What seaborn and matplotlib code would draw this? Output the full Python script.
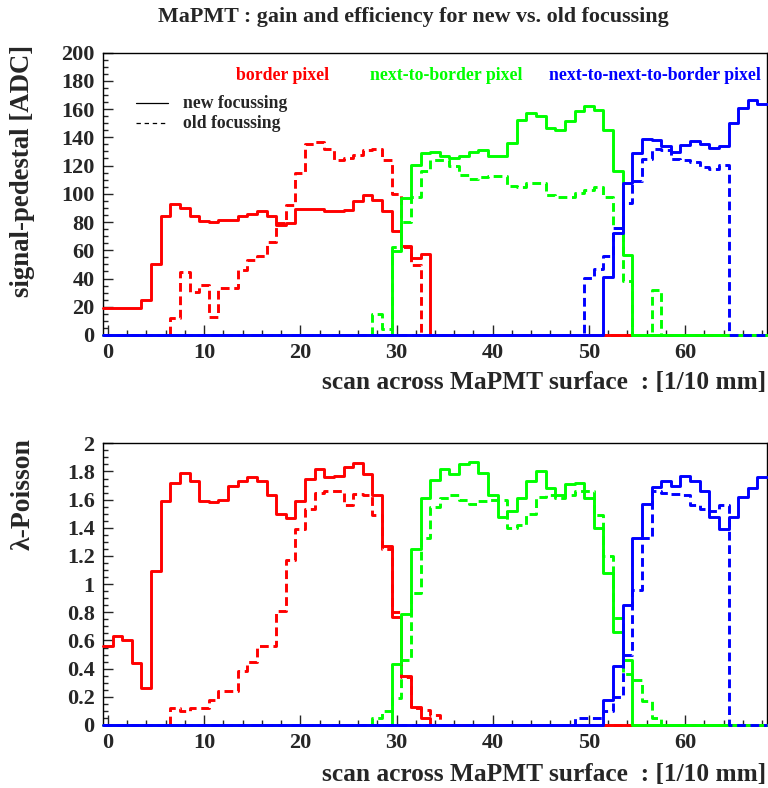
## MaPMT scan: gain and efficiency for new vs. old focussing
# stepped histograms of signal-pedestal and lambda-Poisson across the tube surface

import numpy as np
import seaborn as sns
import matplotlib.pyplot as plt
from matplotlib.lines import Line2D
from matplotlib.ticker import MultipleLocator, FuncFormatter

# scan positions [1/10 mm]
scan_pos = np.arange(69)

# signal-pedestal [ADC]
gain_border_new = [19.4, 19.4, 19.4, 19.4, 24.8, 50, 84.6, 92.9, 89.8, 84.6,
                   80.4, 79.7, 81.1, 81.1, 83.9, 85.8, 87.5, 83.9, 78, 79.2,
                   89, 89.4, 89.4, 87.5, 88, 88.7, 94.6, 98.8, 95.7, 87.5,
                   73.8, 63.1, 54.4, 57.4] + [0] * 35
gain_border_old = [0] * 7 + [12.3, 44.4, 30.3, 35.5, 13, 33, 33, 46, 53, 56,
                             65.6, 79, 92, 115, 135, 136.5, 131.7, 124, 125, 127.5,
                             131, 132, 124, 100, 62.6, 49.6] + [0] * 36
gain_next_new = [0] * 30 + [59.6, 97, 120.6, 128.8, 129.3, 127, 125.3, 127, 129.3, 130.7,
                            126.5, 127, 136, 152, 157.2, 154.8, 146.6, 145.4, 151.3, 158.4,
                            162, 159.6, 145.4, 115.8, 56.7] + [0] * 14
gain_next_old = [0] * 28 + [15, 4, 62.6, 79.7, 98, 115.8, 124, 124, 119.4, 113.5,
                            110.4, 111.8, 112.3, 112.3, 105.7, 104.7, 107.6, 107.6, 99.3, 98,
                            98, 100.5, 102.8, 105, 98, 75.6, 38.5, 0, 0, 32] + [0] * 11
gain_nnb_new = [0] * 52 + [41.4, 72.1, 107.6, 128.8, 138.8, 138.3, 134, 129.3, 134.8, 137.6,
                           135.5, 132.4, 134, 150, 160.8, 166.7, 163.8]
gain_nnb_old = [0] * 50 + [40.2, 46.6, 55.6, 75.6, 93.4, 108.7, 124.6, 131.7, 131.2, 124.6,
                           124.1, 122.2, 118.9, 117.5, 120.6] + [0] * 4

# lambda-Poisson
lambda_border_new = [0.56, 0.63, 0.60, 0.44, 0.26, 1.09, 1.59, 1.72, 1.79, 1.73,
                     1.59, 1.58, 1.60, 1.70, 1.73, 1.76, 1.73, 1.63, 1.50, 1.47,
                     1.59, 1.75, 1.82, 1.76, 1.77, 1.83, 1.86, 1.78, 1.63, 1.27,
                     0.77, 0.35, 0.13, 0.05] + [0] * 35
lambda_border_old = [0] * 7 + [0.12, 0.10, 0.12, 0.12, 0.18, 0.24, 0.24, 0.38, 0.45, 0.56,
                               0.56, 0.81, 1.17, 1.39, 1.53, 1.65, 1.66, 1.66, 1.56, 1.64,
                               1.63, 1.49, 1.25, 0.80, 0.34, 0.12, 0.11, 0.07] + [0] * 34
lambda_next_new = [0] * 30 + [0.43, 0.79, 1.25, 1.61, 1.74, 1.82, 1.78, 1.85, 1.87, 1.79,
                              1.63, 1.48, 1.52, 1.61, 1.73, 1.80, 1.68, 1.63, 1.71, 1.72,
                              1.61, 1.40, 1.08, 0.66, 0.46] + [0] * 14
lambda_next_old = [0] * 28 + [0.05, 0.10, 0.19, 0.46, 0.94, 1.33, 1.55, 1.61, 1.63, 1.60,
                              1.57, 1.59, 1.60, 1.60, 1.40, 1.42, 1.50, 1.62, 1.63, 1.61,
                              1.63, 1.66, 1.66, 1.49, 1.20, 0.76, 0.36, 0.32, 0.17, 0.05] + [0] * 11
lambda_nnb_new = [0] * 52 + [0.18, 0.42, 0.85, 1.33, 1.57, 1.69, 1.73, 1.70, 1.77, 1.73,
                             1.66, 1.48, 1.39, 1.48, 1.62, 1.68, 1.76]
lambda_nnb_old = [0] * 49 + [0.05, 0.05, 0.05, 0.10, 0.20, 0.50, 0.96, 1.33, 1.66, 1.65,
                             1.64, 1.63, 1.56, 1.53, 1.52, 1.56] + [0] * 4

pixel_names = ['border pixel', 'next-to-border pixel', 'next-to-next-to-border pixel']
pixel_colors = ['#ff0000', '#00ff00', '#0000ff']

sns.set_style('white')
plt.rcParams['font.family'] = ['Liberation Serif', 'DejaVu Serif']
plt.rcParams['font.weight'] = 'bold'

W, H = 768, 788
fig = plt.figure(figsize=(W / 100, H / 100), dpi=100)

def fx(px):
    return px / W

def fy(py):
    return 1 - py / H

dash = (0, (3.0, 1.6))

def draw_panel(ax, new_sets, old_sets):
    for vals_new, vals_old, col in zip(new_sets, old_sets, pixel_colors):
        sns.histplot(x=scan_pos, weights=np.array(vals_old, dtype=float), discrete=True,
                     element='step', fill=False, color=col, linestyle=dash,
                     linewidth=2.1, ax=ax)
        sns.histplot(x=scan_pos, weights=np.array(vals_new, dtype=float), discrete=True,
                     element='step', fill=False, color=col, linewidth=2.1, ax=ax)
    for line in ax.lines:
        line.set_clip_on(False)
        line.set_zorder(3)
    ax.set_xlim(-0.5, 68.5)
    ax.set_xlabel('')
    ax.set_ylabel('')
    ax.xaxis.set_major_locator(MultipleLocator(10))
    ax.xaxis.set_minor_locator(MultipleLocator(2))
    ax.tick_params(which='major', direction='in', length=7, width=1, labelsize=16,
                   pad=6, bottom=True, left=True, top=False, right=False)
    ax.tick_params(which='minor', direction='in', length=3.5, width=1,
                   bottom=True, left=True, top=False, right=False)
    for lab in ax.get_xticklabels() + ax.get_yticklabels():
        lab.set_fontweight('bold')
    for sp in ax.spines.values():
        sp.set_color('black')
        sp.set_linewidth(1)

# top panel: gain
ax1 = fig.add_axes([fx(103), fy(335), fx(664), 282.5 / H])
draw_panel(ax1, [gain_border_new, gain_next_new, gain_nnb_new],
           [gain_border_old, gain_next_old, gain_nnb_old])
ax1.set_ylim(0, 200)
ax1.yaxis.set_major_locator(MultipleLocator(20))
ax1.yaxis.set_minor_locator(MultipleLocator(5))

# bottom panel: efficiency
ax2 = fig.add_axes([fx(103), fy(725), fx(664), 281.7 / H])
draw_panel(ax2, [lambda_border_new, lambda_next_new, lambda_nnb_new],
           [lambda_border_old, lambda_next_old, lambda_nnb_old])
ax2.set_ylim(0, 2)
ax2.yaxis.set_major_locator(MultipleLocator(0.2))
ax2.yaxis.set_minor_locator(MultipleLocator(0.05))
ax2.yaxis.set_major_formatter(FuncFormatter(lambda v, p: f'{v:g}'))

# titles and axis titles
fig.text(fx(413), fy(17), 'MaPMT : gain and efficiency for new vs. old focussing',
         ha='center', va='center', fontsize=15.8, fontweight='bold')
fig.text(fx(23), fy(45), 'signal-pedestal [ADC]', rotation=90, ha='center', va='top',
         fontsize=19.3, fontweight='bold')
fig.text(fx(23), fy(438), 'λ-Poisson', rotation=90, ha='center', va='top',
         fontsize=20, fontweight='bold')
for ypos in [383, 775]:
    fig.text(fx(766), fy(ypos), 'scan across MaPMT surface  : [1/10 mm]',
             ha='right', va='center', fontsize=18.3, fontweight='bold')

# pixel labels
for name, col, xc in zip(pixel_names, pixel_colors, [283, 446, 655]):
    fig.text(fx(xc), fy(75), name, color=col, ha='center', va='center',
             fontsize=12.8, fontweight='bold')

# focussing legend
fig.add_artist(Line2D([fx(136), fx(168)], [fy(103), fy(103)], color='black', lw=0.9))
fig.add_artist(Line2D([fx(136), fx(168)], [fy(123), fy(123)], color='black', lw=0.9,
                      linestyle=(0, (3.5, 3))))
fig.text(fx(183), fy(103), 'new focussing', ha='left', va='center', fontsize=12.7, fontweight='bold')
fig.text(fx(183), fy(123), 'old focussing', ha='left', va='center', fontsize=12.7, fontweight='bold')

plt.savefig('out.png', dpi=100)
plt.close()
